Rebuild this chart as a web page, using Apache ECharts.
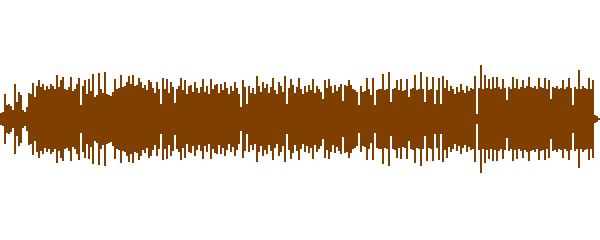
<!DOCTYPE html>
<html>
<head>
<meta charset="utf-8">
<script src="https://cdn.jsdelivr.net/npm/echarts@6/dist/echarts.min.js"></script>
<style>
html,body{margin:0;padding:0;background:#fff;}
#chart{width:600px;height:240px;}
</style>
</head>
<body>
<div id="chart"></div>
<script>
// Peak amplitude per 2-pixel time slice (mirrored above/below zero)
const amplitude = [
  6,7,25,14,15,13,9,35,17,27,
  24,9,7,12,26,25,36,22,33,39,
  32,35,29,33,30,35,33,30,44,32,
  39,42,30,29,32,42,28,30,35,41,
  14,33,39,25,40,28,45,22,24,46,
  30,26,47,25,24,23,27,40,30,31,
  44,32,33,37,43,35,44,33,34,41,
  37,31,34,29,39,37,31,26,37,30,
  15,41,30,40,26,37,32,16,30,33,
  41,29,39,25,33,34,27,37,31,26,
  32,40,27,33,25,40,30,34,35,26,
  35,29,37,31,25,33,28,37,31,25,
  12,39,32,15,33,26,31,25,43,33,
  27,37,31,35,26,32,41,29,25,37,
  33,27,43,15,31,40,34,26,32,41,
  30,25,33,27,34,29,40,26,33,30,
  27,20,39,31,40,33,26,34,28,32,
  35,18,34,33,39,34,30,29,27,14,
  33,27,28,41,30,24,41,14,29,30,
  30,45,29,30,47,17,30,31,39,29,
  40,28,29,40,22,30,31,44,29,30,
  47,30,17,42,29,30,42,15,29,41,
  15,43,31,39,28,33,30,25,32,27,
  35,29,26,33,28,31,30,43,5,31,
  54,30,44,31,40,30,42,31,42,32,
  30,40,31,19,32,30,42,31,40,30,
  32,39,31,33,42,32,31,33,30,41,
  32,31,41,30,39,20,32,31,33,30,
  31,39,30,32,41,31,14,32,30,49,
  30,33,31,30,41,30,39,4,3,1
];
const samples = amplitude.map((_, i) => String(i));
// each slice spans from -amplitude to +amplitude
const extent = amplitude.map((v, i) => [i, -v, v]);

const waveColor = '#7f3f00';
const chart = echarts.init(document.getElementById('chart'), null, {renderer: 'canvas'});
chart.setOption({
  animation: false,
  backgroundColor: '#ffffff',
  grid: {left: 0, right: 0, top: 0, bottom: 0},
  xAxis: {
    type: 'category', data: samples, show: false, boundaryGap: true
  },
  yAxis: {
    type: 'value', min: -121, max: 119, show: false,
    splitLine: {show: false}
  },
  series: [{
    type: 'custom',
    silent: true,
    data: extent,
    encode: {x: 0, y: [1, 2]},
    renderItem: function (params, api) {
      const lo = api.coord([api.value(0), api.value(1)]);
      const hi = api.coord([api.value(0), api.value(2)]);
      const w = api.size([1, 0])[0];
      return {
        type: 'rect',
        shape: {x: lo[0] - w / 2, y: hi[1], width: w, height: lo[1] - hi[1]},
        style: {fill: waveColor}
      };
    }
  }]
});
</script>
</body>
</html>
